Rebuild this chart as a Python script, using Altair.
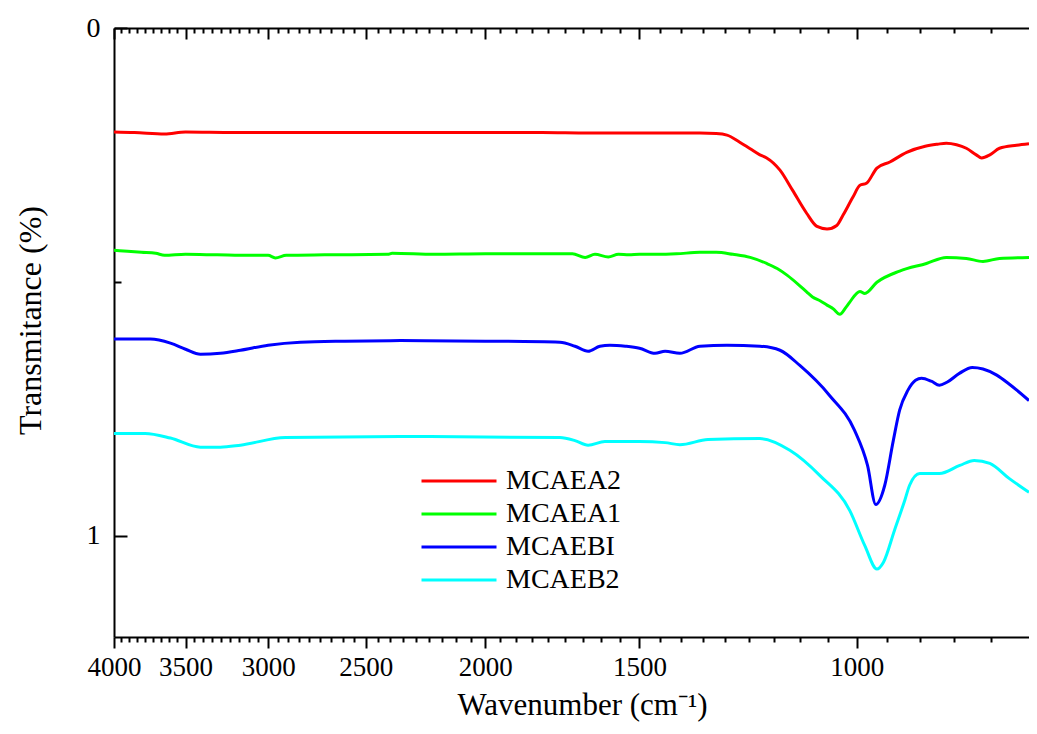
import altair as alt
import pandas as pd

SERIES = ["MCAEA2", "MCAEA1", "MCAEBI", "MCAEB2"]
COLORS = ["#FF0000", "#00FF00", "#0000FF", "#00FFFF"]

MCAEA2 = [(4000, 0.205), (3850, 0.206), (3640, 0.209), (3500, 0.205), (3200, 0.206), (3000, 0.206),
          (2700, 0.206), (2500, 0.206), (2200, 0.206), (2000, 0.206), (1800, 0.206), (1650, 0.207),
          (1500, 0.207), (1400, 0.207), (1340, 0.207), (1300, 0.208), (1274, 0.211), (1244, 0.225),
          (1220, 0.238), (1198, 0.250), (1183, 0.256), (1154, 0.280), (1127, 0.320), (1098, 0.365),
          (1077, 0.391), (1057, 0.396), (1038, 0.389), (1026, 0.369), (1007, 0.333), (994, 0.310),
          (982, 0.306), (963, 0.276), (940, 0.264), (911, 0.245), (880, 0.233), (860, 0.229),
          (846, 0.227), (830, 0.230), (815, 0.237), (800, 0.250), (792, 0.256), (780, 0.250),
          (766, 0.237), (742, 0.231), (725, 0.228)]

MCAEA1 = [(4000, 0.438), (3900, 0.440), (3800, 0.442), (3700, 0.444), (3640, 0.448), (3500, 0.446),
          (3300, 0.447), (3100, 0.448), (3000, 0.448), (2960, 0.453), (2900, 0.448), (2700, 0.447),
          (2400, 0.446), (2380, 0.444), (2200, 0.446), (2000, 0.445), (1800, 0.445), (1700, 0.445),
          (1660, 0.452), (1630, 0.446), (1590, 0.451), (1560, 0.446), (1530, 0.447), (1500, 0.446),
          (1450, 0.446), (1400, 0.445), (1340, 0.442), (1300, 0.442), (1260, 0.446), (1220, 0.452),
          (1183, 0.464), (1160, 0.474), (1139, 0.487), (1112, 0.508), (1098, 0.520), (1086, 0.530),
          (1070, 0.538), (1057, 0.546), (1045, 0.553), (1032, 0.564), (1020, 0.550), (1013, 0.540),
          (994, 0.519), (985, 0.523), (963, 0.501), (923, 0.479), (878, 0.464), (846, 0.452),
          (815, 0.454), (790, 0.460), (766, 0.454), (725, 0.452)]

MCAEBI = [(4000, 0.613), (3850, 0.613), (3737, 0.613), (3600, 0.621), (3500, 0.633), (3404, 0.643),
          (3280, 0.641), (3159, 0.635), (3000, 0.625), (2825, 0.619), (2600, 0.617), (2344, 0.616),
          (2000, 0.617), (1740, 0.619), (1692, 0.627), (1651, 0.637), (1615, 0.627), (1585, 0.625),
          (1540, 0.627), (1500, 0.631), (1457, 0.641), (1430, 0.637), (1391, 0.641), (1340, 0.627),
          (1274, 0.625), (1198, 0.627), (1154, 0.635), (1112, 0.665), (1052, 0.724), (1004, 0.793),
          (980, 0.862), (965, 0.939), (949, 0.901), (934, 0.813), (923, 0.753), (909, 0.714),
          (896, 0.694), (886, 0.690), (870, 0.696), (857, 0.704), (845, 0.698), (825, 0.680),
          (806, 0.669), (790, 0.672), (770, 0.684), (752, 0.702), (725, 0.734)]

MCAEB2 = [(4000, 0.799), (3775, 0.799), (3600, 0.808), (3404, 0.826), (3280, 0.826), (3159, 0.822),
          (2905, 0.807), (2344, 0.805), (1740, 0.807), (1692, 0.813), (1651, 0.822), (1600, 0.815),
          (1500, 0.815), (1430, 0.817), (1391, 0.821), (1320, 0.811), (1198, 0.809), (1133, 0.832),
          (1071, 0.882), (1013, 0.951), (985, 1.020), (963, 1.066), (951, 1.052), (932, 0.990),
          (914, 0.930), (906, 0.901), (889, 0.878), (857, 0.878), (825, 0.862), (803, 0.852),
          (780, 0.858), (752, 0.888), (725, 0.915)]

X_MAJOR = [4000, 3500, 3000, 2500, 2000, 1500, 1000]
X_MINOR = [round(4000 - k * 500 / 9, 2) for k in range(1, 60)
           if k % 9 != 0 and 4000 - k * 500 / 9 >= 725]
Y_LABELED = [0, 1]
Y_MINOR = [0.5]

rows = []
for name, pts in zip(SERIES, [MCAEA2, MCAEA1, MCAEBI, MCAEB2]):
    for wn, t in pts:
        rows.append({"series": name, "wn": wn, "t": t})
df = pd.DataFrame(rows)

W, H = 915, 609
FONT = "Liberation Serif"

xs = alt.Scale(type="log", domain=[725, 4000], reverse=True, nice=False)
ys = alt.Scale(domain=[0, 1.2], reverse=True, nice=False, zero=False)

legend = alt.Legend(orient="none", legendX=331, legendY=439, title=None,
                    symbolType="M-3,0L3,0", symbolSize=625, symbolStrokeWidth=3,
                    labelFont=FONT, labelFontSize=28, labelOffset=33, rowPadding=5,
                    padding=0, labelLimit=0, labelColor="black")

lines = alt.Chart(df).mark_line(strokeWidth=3, clip=True, interpolate="monotone").encode(
    x=alt.X("wn:Q", scale=xs, axis=alt.Axis(
        orient="bottom", values=X_MAJOR, format="d", tickSize=11, labelFont=FONT,
        labelFontSize=27, labelPadding=6, labelFlush=False, labelOverlap=False,
        title="Wavenumber (cm⁻¹)", titleFont=FONT, titleFontSize=31, titleX=468, titleY=77,
        titleAlign="center", titleBaseline="alphabetic", titleAngle=0)),
    y=alt.Y("t:Q", scale=ys, axis=alt.Axis(
        orient="left", values=Y_LABELED, format="d", ticks=False, labelFont=FONT,
        labelFontSize=28, labelPadding=14, title="Transmitance (%)", titleFont=FONT,
        titleFontSize=32, titleX=-74, titleY=292,
        titleAngle=270, titleAlign="center", titleBaseline="alphabetic")),
    color=alt.Color("series:N", scale=alt.Scale(domain=SERIES, range=COLORS), legend=legend),
)


def ghost(xaxis, yaxis):
    return alt.Chart(df).mark_point(opacity=0).encode(
        x=alt.X("wn:Q", scale=xs, axis=xaxis),
        y=alt.Y("t:Q", scale=ys, axis=yaxis),
    )


bottom_minor = ghost(alt.Axis(orient="bottom", values=X_MINOR, tickSize=5, labels=False,
                              domain=False, title=None), None)
top_major = ghost(alt.Axis(orient="bottom", offset=-H, values=X_MAJOR, tickSize=11,
                           labels=False, domain=True, title=None), None)
top_minor = ghost(alt.Axis(orient="bottom", offset=-H, values=X_MINOR, tickSize=5,
                           labels=False, domain=False, title=None), None)
left_major = ghost(None, alt.Axis(orient="right", offset=-W, values=Y_LABELED, tickSize=13,
                                  labels=False, domain=False, title=None))
left_minor = ghost(None, alt.Axis(orient="right", offset=-W, values=Y_MINOR, tickSize=7,
                                  labels=False, domain=False, title=None))

chart = alt.layer(lines, bottom_minor, top_major, top_minor, left_major, left_minor).resolve_axis(
    x="independent", y="independent"
).properties(
    width=W, height=H,
    padding={"left": 106, "top": 20, "right": 0, "bottom": 85},
    autosize=alt.AutoSizeParams(type="none"),
    background="white",
).configure_view(stroke=None).configure_axis(
    grid=False, labelFont=FONT, titleFont=FONT, labelColor="black", titleColor="black",
    domainColor="black", tickColor="black", domainWidth=2, tickWidth=2,
    titleFontWeight="normal",
).configure_legend(labelFont=FONT)

chart.save("out.html", embed_options={"renderer": "svg", "actions": False})
